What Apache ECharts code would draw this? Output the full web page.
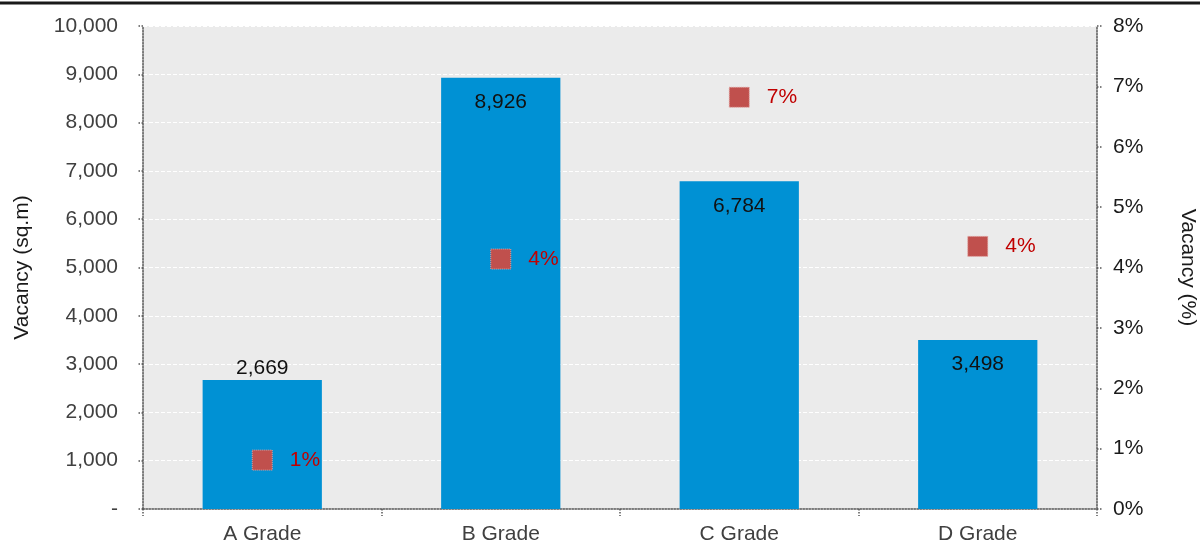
<!DOCTYPE html>
<html>
<head>
<meta charset="utf-8">
<script src="https://cdn.jsdelivr.net/npm/echarts@6/dist/echarts.min.js"></script>
<style>
  html, body { margin: 0; padding: 0; background: #fff; }
  #chart { width: 1200px; height: 543px; }
</style>
</head>
<body>
<div id="chart"></div>
<script>
// Vacant floor area and vacancy rate by building grade
const categories = ['A Grade', 'B Grade', 'C Grade', 'D Grade'];
const vacancyArea = [2669, 8926, 6784, 3498];        // sq.m
const vacancyRate = [0.81, 4.14, 6.82, 4.35];         // %
const areaTicks = { min: 0, max: 10000, interval: 1000 };
const rateTicks = { min: 0, max: 8, interval: 1 };

const FONT = 'Liberation Sans, Arial, sans-serif';
const chart = echarts.init(document.getElementById('chart'));

const fmtNum = v => v === 0 ? '-' : Math.round(v).toLocaleString('en-US');

chart.setOption({
  animation: false,
  textStyle: { fontFamily: FONT },
  graphic: [{
    type: 'line',
    shape: { x1: 0, y1: 3, x2: 1200, y2: 3 },
    style: { stroke: '#1a1a1a', lineWidth: 3 }
  }],
  grid: {
    left: 143, right: 103, top: 26, bottom: 34,
    outerBoundsMode: 'none',
    containLabel: false,
    show: true, backgroundColor: '#ebebeb', borderWidth: 0
  },
  xAxis: {
    type: 'category',
    data: categories,
    axisLine: { lineStyle: { color: '#555', type: 'dotted', width: 1.5 } },
    axisTick: { show: true, length: 7, lineStyle: { color: '#555', type: 'dotted', width: 1.5 } },
    axisLabel: { color: '#404040', fontSize: 21, margin: 15, fontFamily: FONT }
  },
  yAxis: [{
    type: 'value',
    min: areaTicks.min, max: areaTicks.max, interval: areaTicks.interval,
    name: 'Vacancy (sq.m)',
    nameLocation: 'middle',
    nameGap: 110,
    nameTextStyle: { color: '#1a1a1a', fontSize: 21, fontFamily: FONT },
    axisLine: { show: true, lineStyle: { color: '#555', type: 'dotted', width: 1.5 } },
    axisTick: { show: true, length: 6, lineStyle: { color: '#555', type: 'dotted', width: 1.5 } },
    axisLabel: { color: '#404040', fontSize: 21, margin: 25, formatter: fmtNum, fontFamily: FONT },
    splitLine: { show: true, lineStyle: { color: '#ffffff', type: 'dashed', width: 1 } }
  }, {
    type: 'value',
    position: 'right',
    min: rateTicks.min, max: rateTicks.max, interval: rateTicks.interval,
    name: 'Vacancy (%)',
    nameLocation: 'middle',
    nameGap: 80,
    nameRotate: -90,
    nameTextStyle: { color: '#1a1a1a', fontSize: 21, fontFamily: FONT },
    axisLine: { show: true, lineStyle: { color: '#555', type: 'dotted', width: 1.5 } },
    axisTick: { show: true, length: 6, lineStyle: { color: '#555', type: 'dotted', width: 1.5 } },
    axisLabel: { color: '#1a1a1a', fontSize: 21, margin: 16, formatter: v => v + '%', fontFamily: FONT },
    splitLine: { show: false }
  }],
  series: [{
    type: 'bar',
    yAxisIndex: 0,
    barWidth: '50%',
    itemStyle: { color: '#0091d4' },
    data: vacancyArea.map((v, i) => ({
      value: v,
      label: i === 0
        ? { position: 'top', distance: 1 }
        : { position: 'insideTop', distance: 14 }
    })),
    label: {
      show: true,
      color: '#111',
      fontSize: 21,
      fontFamily: FONT,
      formatter: p => fmtNum(p.value)
    },
    z: 2
  }, {
    type: 'scatter',
    yAxisIndex: 1,
    symbol: 'rect',
    symbolSize: 20,
    itemStyle: { color: '#c0504d', opacity: 1, borderColor: '#e0a09e', borderType: 'dotted', borderWidth: 1 },
    data: vacancyRate,
    label: {
      show: true,
      position: 'right',
      distance: 17,
      color: '#c00000',
      fontSize: 21,
      fontFamily: FONT,
      formatter: p => Math.round(p.value) + '%'
    },
    z: 3
  }]
});
</script>
</body>
</html>
